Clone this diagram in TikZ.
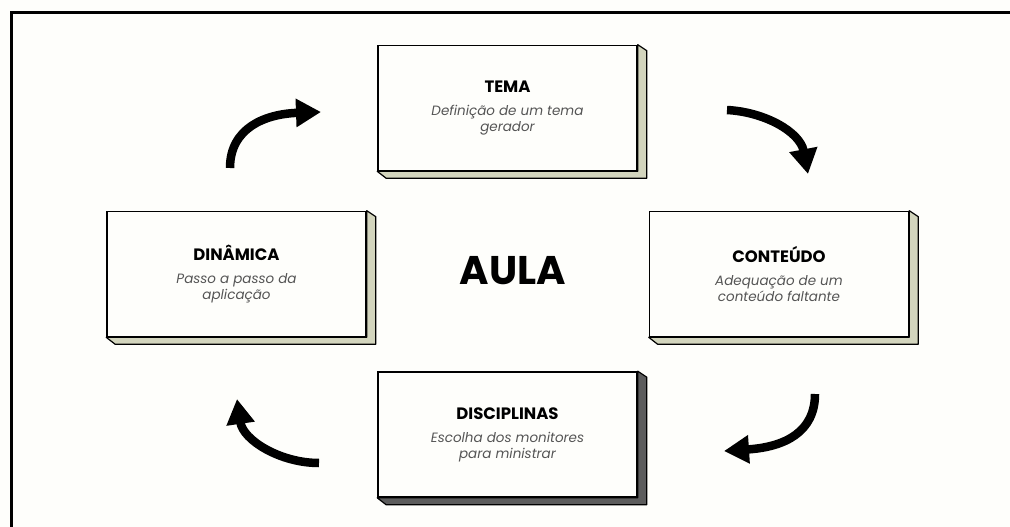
\documentclass[tikz,border=0pt]{standalone}
\usepackage{fontspec}
\setmainfont{Poppins}
\usetikzlibrary{arrows.meta}
\definecolor{Lado}{RGB}{211,213,189}
\definecolor{LadoEsc}{RGB}{92,92,92}
\definecolor{Texto}{RGB}{85,85,85}
\definecolor{Fundo}{RGB}{254,254,251}
\newcommand{\titulo}[1]{{\fontsize{16.5}{19}\selectfont\bfseries #1}}
\newcommand{\descr}[1]{{\fontsize{13.5}{16}\selectfont\itshape\color{Texto}#1}}
\tikzset{
  cartao/.style={draw=black, line width=1.6pt, fill=Fundo, minimum width=259pt, minimum height=125pt, align=center, inner sep=0pt, font=\fontsize{13.5}{16}\selectfont},
  lado/.style={draw=black, line width=1.2pt, line join=round},
  seta/.style={line width=8.5pt, -{Triangle[length=25pt,width=27pt]}},
}
\begin{document}
\begin{tikzpicture}[x=1pt,y=-1pt]
  \useasboundingbox[fill=Fundo] (0,0) rectangle (1010,527);
  %# MOLDURA
  \draw[line width=3pt] (11,527) -- (11,13) -- (1010,13);

  %# CARTOES
  \node[cartao] (tema) at (507.5,108) {\titulo{TEMA}\\[7pt]\descr{Definição de um tema}\\\descr{gerador}};
  \node[cartao] (conteudo) at (779,274) {\titulo{CONTEÚDO}\\[7pt]\descr{Adequação de um}\\\descr{conteúdo faltante}};
  \node[cartao] (disciplinas) at (507.5,434.5) {\titulo{DISCIPLINAS}\\[7pt]\descr{Escolha dos monitores}\\\descr{para ministrar}};
  \node[cartao] (dinamica) at (236.5,274) {\titulo{DINÂMICA}\\[7pt]\descr{Passo a passo da}\\\descr{aplicação}};

  %# LADOS
  \foreach \n/\c in {tema/Lado, conteudo/Lado, disciplinas/LadoEsc, dinamica/Lado}
    \filldraw[lado, fill=\c] (\n.north east) -- ([shift={(9,6)}]\n.north east) -- ([shift={(9,7)}]\n.south east)
      -- ([shift={(9,7)}]\n.south west) -- (\n.south west) -- (\n.south east) -- cycle;

  %# CENTRO
  \node[font=\fontsize{40}{40}\selectfont\bfseries] (aula) at (513,271) {AULA};

  %# SETAS
  \coordinate (s1) at (230,168); \coordinate (e1) at (321,112);
  \coordinate (s2) at (727,110); \coordinate (e2) at (808,174);
  \coordinate (s3) at (815,394); \coordinate (e3) at (724,451);
  \coordinate (s4) at (319,463); \coordinate (e4) at (237,399);
  \draw[seta] (s1) .. controls (230,128) and (265,114) .. (e1);
  \draw[seta] (s2) .. controls (765,112) and (800,132) .. (e2);
  \draw[seta] (s3) .. controls (815,432) and (785,447) .. (e3);
  \draw[seta] (s4) .. controls (280,463) and (243,440) .. (e4);
\end{tikzpicture}
\end{document}
